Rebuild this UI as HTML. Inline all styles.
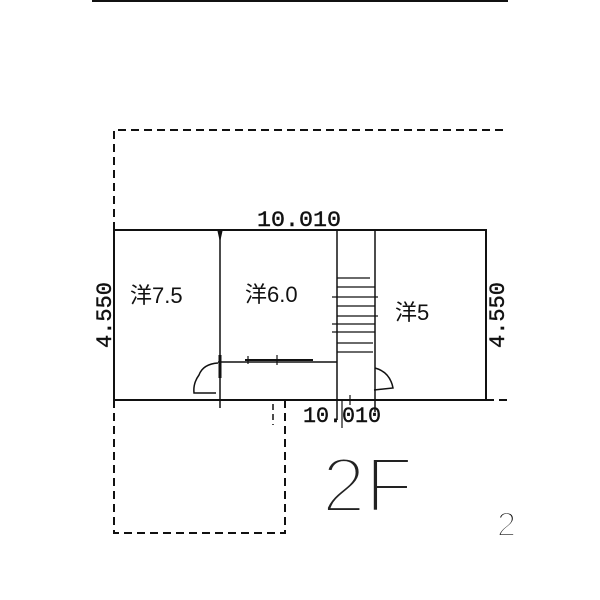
<!DOCTYPE html>
<html><head><meta charset="utf-8"><style>
html,body{margin:0;padding:0;background:#fff;width:600px;height:600px;overflow:hidden}
</style></head><body>
<svg width="600" height="600" viewBox="0 0 600 600" xmlns="http://www.w3.org/2000/svg">
<g stroke="#111" fill="none">
<line x1="92" y1="1" x2="508" y2="1" stroke-width="2"/>
<path d="M114 230 V130 H508" stroke-width="2" stroke-dasharray="8,5"/>
<path d="M114 400 V533 H285 V400" stroke-width="2" stroke-dasharray="8,5"/>
<line x1="486" y1="400" x2="508" y2="400" stroke-width="2" stroke-dasharray="8,5"/>
<line x1="273" y1="404" x2="273" y2="425" stroke-width="1.5" stroke-dasharray="6,4"/>
<rect x="114" y="230" width="372" height="170" stroke-width="2"/>
<line x1="220" y1="230" x2="220" y2="408" stroke-width="1.5"/>
<path d="M218 231 L222 231 L220 240 Z" fill="#111"/>
<line x1="337" y1="230" x2="337" y2="420" stroke-width="1.5"/>
<line x1="375" y1="230" x2="375" y2="412" stroke-width="1.5"/>
<line x1="342" y1="400" x2="342" y2="428" stroke-width="1.2"/>
<line x1="350" y1="395" x2="350" y2="405" stroke-width="1.2"/>
<g stroke-width="1.3">
<line x1="337" y1="278" x2="370" y2="278"/>
<line x1="337" y1="287" x2="375" y2="287"/>
<line x1="332" y1="297" x2="378" y2="297"/>
<line x1="337" y1="306" x2="375" y2="306"/>
<line x1="337" y1="316" x2="378" y2="316"/>
<line x1="332" y1="324" x2="375" y2="324"/>
<line x1="332" y1="332" x2="375" y2="332"/>
<line x1="337" y1="343" x2="373" y2="343"/>
<line x1="337" y1="352" x2="373" y2="352"/>
</g>
<line x1="218" y1="362" x2="337" y2="362" stroke-width="1.5"/>
<line x1="245" y1="360" x2="313" y2="360" stroke-width="2"/>
<line x1="248" y1="356" x2="248" y2="364" stroke-width="1.2"/>
<line x1="277" y1="355" x2="277" y2="365" stroke-width="1.2"/>
<line x1="220" y1="355" x2="220" y2="378" stroke-width="3"/>
<path d="M218 363 Q203 364 199 375 Q193 383 194 393 L216 393" stroke-width="1.5"/>
<path d="M375 368 Q390 372 393 388 L374 390" stroke-width="1.5"/>
</g>
<g font-family="Liberation Mono, monospace" font-size="22" fill="#111" stroke="#111" stroke-width="0.4">
<text x="257" y="226" textLength="84" lengthAdjust="spacingAndGlyphs">10.010</text>
<text x="303" y="422" textLength="78" lengthAdjust="spacingAndGlyphs">10.010</text>
<text transform="translate(111,315) rotate(-90)" text-anchor="middle">4.550</text>
<text transform="translate(504,315) rotate(-90)" text-anchor="middle">4.550</text>
</g>
<g font-family="Liberation Sans, Noto Sans CJK JP, sans-serif" fill="#111">
<text x="130" y="303" font-size="22">洋7.5</text>
<text x="245" y="302" font-size="22">洋6.0</text>
<text x="395" y="320" font-size="22">洋5</text>
<text x="322" y="512" font-size="78" fill="#222" stroke="#fff" stroke-width="4" paint-order="fill stroke">2F</text>
<text x="497" y="536" font-size="34" stroke="#fff" stroke-width="2">2</text>
</g>
</svg>
</body></html>
